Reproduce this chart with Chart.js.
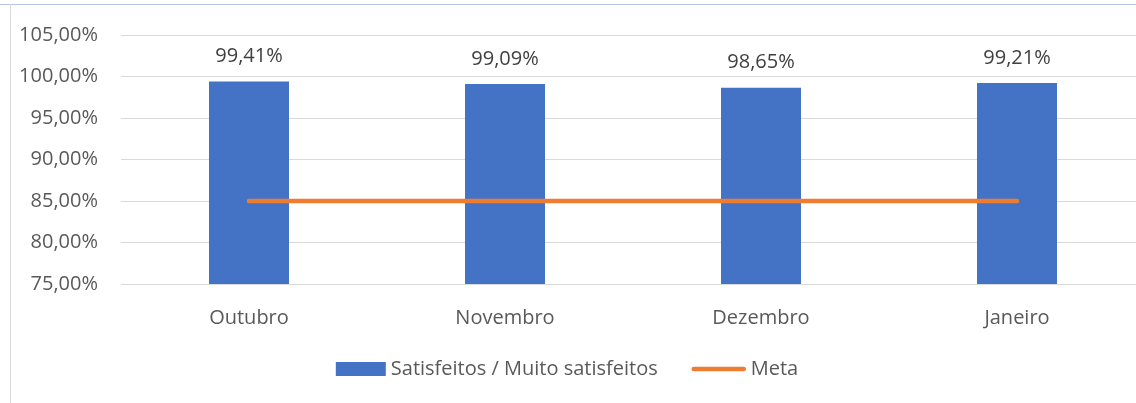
<!DOCTYPE html>
<html>
<head>
<meta charset="utf-8">
<script src="https://cdn.jsdelivr.net/npm/chart.js@4"></script>
<style>
  html, body { margin: 0; padding: 0; background: #fff; overflow: hidden; }
  body { width: 1136px; height: 403px; position: relative; }
  #wrap { position: absolute; left: 0; top: 0; width: 1170px; height: 403px; }
  .frame-top { position: absolute; left: 0; top: 4px; width: 1136px; height: 1px; background: #B4C7E7; z-index: 2; }
  .frame-left { position: absolute; left: 10px; top: 4px; width: 1px; height: 399px; background: #D9D9D9; z-index: 2; }
</style>
</head>
<body>
<div class="frame-top"></div>
<div class="frame-left"></div>
<div id="wrap"><canvas id="chart" width="1170" height="403"></canvas></div>
<script>
// Chart data
const months = ['Outubro', 'Novembro', 'Dezembro', 'Janeiro'];
const satisfied = [99.41, 99.09, 98.65, 99.21];
const target = [85, 85, 85, 85];
const seriesNames = ['Satisfeitos / Muito satisfeitos', 'Meta'];
const yTicks = [75, 80, 85, 90, 95, 100, 105];

const FONT = '"Open Sans", "Noto Sans", sans-serif';
const TEXT = '#595959';

function pct(v) {
    return v.toFixed(2).replace('.', ',') + '%';
}

// Value labels above the bars
const valueLabels = {
    id: 'valueLabels',
    afterDatasetsDraw(chart) {
        const ctx = chart.ctx;
        const meta = chart.getDatasetMeta(0);
        ctx.save();
        ctx.font = '20px ' + FONT;
        ctx.fillStyle = '#404040';
        ctx.textAlign = 'center';
        ctx.textBaseline = 'middle';
        meta.data.forEach((bar, i) => {
            ctx.fillText(pct(chart.data.datasets[0].data[i]), bar.x, bar.y - 25);
        });
        ctx.restore();
    }
};

// Legend drawn like the Excel one
const bottomLegend = {
    id: 'bottomLegend',
    afterDraw(chart) {
        const ctx = chart.ctx;
        const ds = chart.data.datasets;
        ctx.save();
        ctx.font = '20px ' + FONT;
        const y = 369;
        const boxW = 50, gap = 5, itemGap = 34;
        const w0 = ctx.measureText(ds[0].label).width;
        const w1 = ctx.measureText(ds[1].label).width;
        const total = boxW + gap + w0 + itemGap + 54 + gap + w1;
        let x = 567 - total / 2;
        ctx.fillStyle = ds[0].backgroundColor;
        ctx.fillRect(x, y - 7, boxW, 14);
        x += boxW + gap;
        ctx.fillStyle = TEXT;
        ctx.textBaseline = 'middle';
        ctx.fillText(ds[0].label, x, y);
        x += w0 + itemGap;
        ctx.strokeStyle = ds[1].borderColor;
        ctx.lineWidth = 4.5;
        ctx.lineCap = 'round';
        ctx.beginPath();
        ctx.moveTo(x + 2, y);
        ctx.lineTo(x + 52, y);
        ctx.stroke();
        x += 54 + gap;
        ctx.fillText(ds[1].label, x, y);
        ctx.restore();
    }
};

const ctx = document.getElementById('chart').getContext('2d');
new Chart(ctx, {
    data: {
        labels: months,
        datasets: [{
            type: 'bar',
            label: seriesNames[0],
            data: satisfied,
            backgroundColor: '#4472C4',
            categoryPercentage: 0.3125,
            barPercentage: 1,
            order: 2
        }, {
            type: 'line',
            label: seriesNames[1],
            data: target,
            borderColor: '#ED7D31',
            borderWidth: 4.5,
            borderCapStyle: 'round',
            pointRadius: 0,
            fill: false,
            order: 1
        }]
    },
    options: {
        responsive: false,
        animation: false,
        layout: {
            padding: { left: 0, top: 34, right: 25, bottom: 69 }
        },
        plugins: {
            legend: { display: false },
            tooltip: { enabled: false }
        },
        scales: {
            x: {
                grid: { display: false, drawTicks: false },
                border: { display: false },
                ticks: { color: TEXT, font: { family: FONT, size: 20 }, padding: 22 },
                afterFit(scale) { scale.height = 50; }
            },
            y: {
                min: yTicks[0],
                max: yTicks[yTicks.length - 1],
                grid: { color: '#D9D9D9', lineWidth: 1, drawTicks: false },
                border: { display: false },
                ticks: {
                    stepSize: 5,
                    color: TEXT,
                    padding: 23,
                    font: { family: FONT, size: 20 },
                    callback: value => pct(value)
                },
                afterFit(scale) { scale.width = 121; }
            }
        }
    },
    plugins: [valueLabels, bottomLegend]
});
</script>
</body>
</html>
